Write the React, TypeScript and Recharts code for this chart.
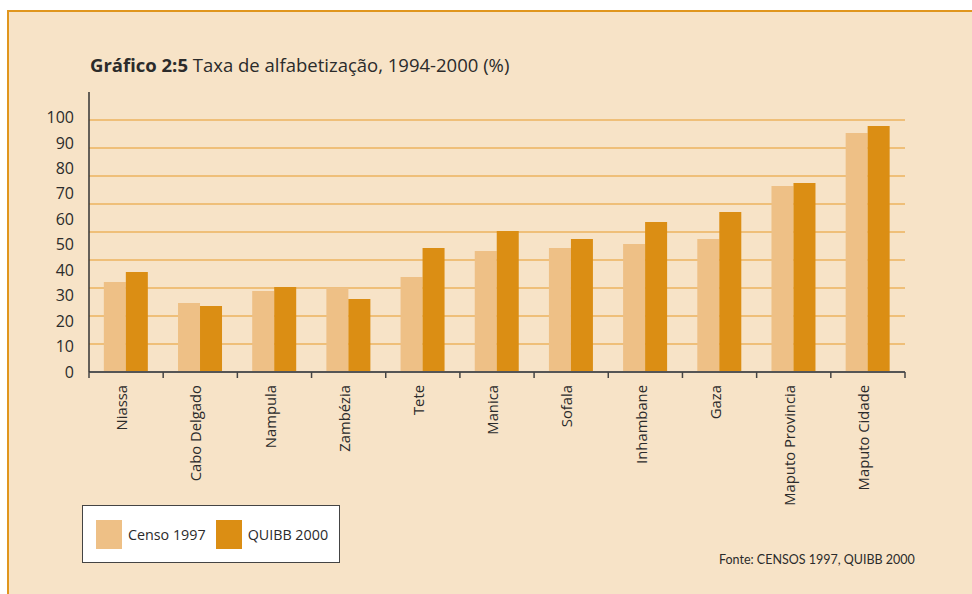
import { BarChart, Bar, XAxis, YAxis, CartesianGrid, Legend } from 'recharts';

const REGIONS = [
  'Niassa', 'Cabo Delgado', 'Nampula', 'Zambézia', 'Tete', 'Manica',
  'Sofala', 'Inhambane', 'Gaza', 'Maputo Provincia', 'Maputo Cidade',
];
const CENSO_1997 = [32.1, 24.6, 28.9, 30.2, 33.9, 43.2, 44.3, 45.7, 47.5, 66.4, 85.4];
const QUIBB_2000 = [35.7, 23.6, 30.4, 26.1, 44.3, 50.4, 47.5, 53.6, 57.1, 67.5, 87.9];
const LABEL_TICKS = [0, 10, 20, 30, 40, 50, 60, 70, 80, 90, 100];
const GRID_TICKS = [0, 10, 20, 30, 40, 50, 60, 70, 80, 90];

const CENSO_COLOR = '#EEC086';
const QUIBB_COLOR = '#DB8E14';
const BG = '#F7E3C7';
const FONT = '"Open Sans", Lato, sans-serif';

const data = REGIONS.map((r, i) => ({ region: r, censo: CENSO_1997[i], quibb: QUIBB_2000[i] }));

const BAND = 816 / REGIONS.length;

function RegionTick(props: any) {
  const { x, y, payload, index } = props;
  const left = x - BAND / 2;
  return (
    <g>
      <line x1={left} x2={left} y1={y - 8} y2={y - 2} stroke="#444" strokeWidth={1.5} />
      {index === REGIONS.length - 1 && (
        <line x1={left + BAND} x2={left + BAND} y1={y - 8} y2={y - 2} stroke="#444" strokeWidth={1.5} />
      )}
      <text
        transform={`translate(${x - 4},${y + 5}) rotate(-90)`}
        textAnchor="end"
        dy="0.35em"
        fill="#2b2b2b"
        fontSize={14.8}
        fontFamily={FONT}
      >
        {payload.value}
      </text>
    </g>
  );
}

function LegendBox() {
  const item = (color: string, label: string) => (
    <div style={{ display: 'flex', alignItems: 'center', marginRight: 10, flexShrink: 0 }}>
      <div style={{ width: 26, height: 29, background: color, marginRight: 6, flexShrink: 0 }} />
      <span style={{ fontSize: 14.3, color: '#2b2b2b', fontFamily: FONT, whiteSpace: 'nowrap' }}>{label}</span>
    </div>
  );
  return (
    <div
      style={{
        boxSizing: 'border-box', width: 258, height: 58, background: '#fff',
        border: '1.5px solid #444', display: 'flex', alignItems: 'center', paddingLeft: 13,
      }}
    >
      {item(CENSO_COLOR, 'Censo 1997')}
      {item(QUIBB_COLOR, 'QUIBB 2000')}
    </div>
  );
}

export default function App() {
  return (
    <div style={{ position: 'absolute', left: 0, top: 0, width: 972, height: 594, background: '#fff', fontFamily: FONT }}>
      <div
        style={{
          position: 'absolute', left: 7, top: 10, width: 965, height: 584, background: BG,
          borderTop: '2.5px solid #E0961E', borderLeft: '2.5px solid #E0961E', boxSizing: 'border-box',
        }}
      />
      <div style={{ position: 'absolute', left: 90, top: 54, fontSize: 18.5, color: '#2b2b2b', whiteSpace: 'nowrap', lineHeight: '22px' }}>
        <b>Gráfico 2:5</b> Taxa de alfabetização, 1994-2000 (%)
      </div>
      <div style={{ position: 'absolute', left: 0, top: 0 }}>
        <BarChart
          width={972}
          height={594}
          data={data}
          margin={{ top: 92, right: 67, bottom: 122, left: 0 }}
          barCategoryGap="20%"
          barGap={0}
        >
          <CartesianGrid yAxisId="grid" vertical={false} stroke="#ECB35F" strokeWidth={1.5} horizontalValues={GRID_TICKS} />
          <XAxis
            dataKey="region"
            interval={0}
            height={100}
            tick={<RegionTick />}
            tickLine={false}
            axisLine={{ stroke: '#555', strokeWidth: 2 }}
          />
          <YAxis
            yAxisId="labels"
            type="number"
            width={89}
            domain={[0, 110]}
            allowDataOverflow
            ticks={LABEL_TICKS}
            interval={0}
            tickLine={false}
            tickMargin={9}
            axisLine={{ stroke: '#333', strokeWidth: 1.5 }}
            tick={{ fill: '#2b2b2b', fontSize: 16, fontFamily: FONT }}
          />
          <YAxis yAxisId="grid" hide width={0} domain={[0, 100]} ticks={GRID_TICKS} />
          <Legend
            layout="horizontal"
            align="center"
            verticalAlign="middle"
            wrapperStyle={{ left: 82, top: 505, width: 258, height: 58 }}
            content={() => <LegendBox />}
          />
          <Bar yAxisId="grid" dataKey="censo" name="Censo 1997" fill={CENSO_COLOR} isAnimationActive={false} />
          <Bar yAxisId="grid" dataKey="quibb" name="QUIBB 2000" fill={QUIBB_COLOR} isAnimationActive={false} />
        </BarChart>
      </div>
      <div style={{ position: 'absolute', left: 719, top: 552, fontSize: 12.5, color: '#2b2b2b', whiteSpace: 'nowrap', fontFamily: 'Lato, sans-serif' }}>
        Fonte: CENSOS 1997, QUIBB 2000
      </div>
    </div>
  );
}
